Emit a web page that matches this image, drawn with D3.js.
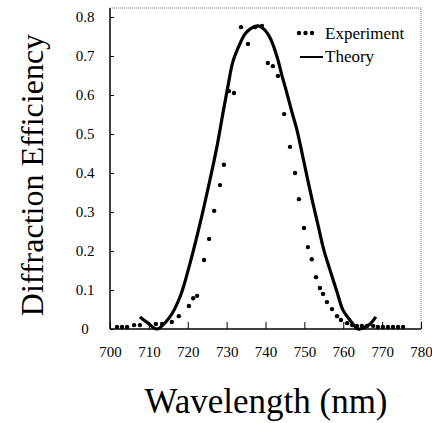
<!DOCTYPE html>
<html>
<head>
<meta charset="utf-8">
<script src="https://cdn.jsdelivr.net/npm/d3@7"></script>
<style>
  body { margin: 0; background: #fff; }
  svg text { font-family: "Liberation Serif", "Times New Roman", serif !important; fill: #000; }
</style>
</head>
<body>
<div id="chart"></div>
<script>
// measured points, wavelength in nm
var expX = [701.8, 703.1, 704.4, 706.2, 707.7, 711.8, 713.4, 715.9, 717.7, 720.3, 721.4, 722.4,
            724.2, 725.5, 726.8, 728.3, 729.3, 730.6, 731.9, 733.7, 735.5, 737.3, 739.1, 740.6,
            741.9, 743.2, 744.8, 746.3, 747.6, 748.6, 749.9, 750.9, 751.9, 753.0, 754.0, 754.8,
            755.8, 757.1, 758.4, 759.4, 761.0, 762.3, 763.5, 764.8, 766.1, 767.7, 768.9, 770.2,
            771.5, 772.8, 774.1, 775.4];
var expY = [0.005, 0.005, 0.005, 0.010, 0.010, 0.013, 0.013, 0.018, 0.033, 0.059, 0.079, 0.085,
            0.177, 0.231, 0.303, 0.369, 0.421, 0.610, 0.605, 0.774, 0.731, 0.774, 0.777, 0.682,
            0.674, 0.649, 0.551, 0.467, 0.400, 0.333, 0.259, 0.210, 0.179, 0.133, 0.105, 0.090,
            0.069, 0.051, 0.033, 0.023, 0.015, 0.010, 0.008, 0.008, 0.008, 0.008, 0.005, 0.005,
            0.005, 0.005, 0.005, 0.005];

// theory curve
var thX = [707.7, 709.8, 712.1, 715.4, 718.0, 720.6, 723.2, 725.7, 727.5, 729.1, 730.4, 731.6,
           733.4, 734.7, 736.0, 738.1, 739.6, 741.2, 743.0, 744.2, 745.5, 746.8, 748.1, 749.4,
           750.7, 752.0, 753.5, 755.0, 756.6, 758.4, 759.9, 761.7, 763.8, 765.3, 766.9, 768.4];
var thY = [0.031, 0.015, 0.000, 0.031, 0.082, 0.169, 0.272, 0.382, 0.467, 0.556, 0.626, 0.685,
           0.731, 0.756, 0.769, 0.777, 0.769, 0.746, 0.697, 0.651, 0.605, 0.556, 0.510, 0.451,
           0.390, 0.331, 0.267, 0.203, 0.151, 0.095, 0.049, 0.023, 0.000, 0.003, 0.013, 0.031];

var xTicks = [700, 710, 720, 730, 740, 750, 760, 770, 780];
var yTicks = [0, 0.1, 0.2, 0.3, 0.4, 0.5, 0.6, 0.7, 0.8];
var legendLabels = ["Experiment", "Theory"];

function init(){
    var w = 432, h = 423;
    var left = 110, right = 421, top = 8, bottom = 329;

    var svg = d3.select("#chart")
                .append("svg")
                .attr("width", w)
                .attr("height", h);

    var xScale = d3.scaleLinear().domain([700, 780]).range([left, right]);
    var yScale = d3.scaleLinear().domain([0, 0.8]).range([bottom, 17]);

    // dotted frame top / right
    svg.append("path")
        .attr("d", "M" + left + "," + top + "H" + right + "V" + bottom)
        .attr("fill", "none")
        .attr("stroke", "#777")
        .attr("stroke-width", 1)
        .attr("stroke-dasharray", "1,1");

    // x axis, ticks pointing inward
    var xAxis = d3.axisBottom(xScale)
                .tickValues(xTicks)
                .tickSize(-7)
                .tickFormat(d3.format("d"))
                .tickPadding(0);
    var gx = svg.append("g")
        .attr("transform", "translate(0," + bottom + ")")
        .attr("font-family", null)
        .call(xAxis);
    gx.select(".domain").remove();
    gx.selectAll("line").attr("stroke", "#000");
    gx.selectAll("text")
        .attr("y", 28)
        .attr("dy", null)
        .style("font-family", "'Liberation Serif', serif")
        .style("font-size", "15px");
    svg.append("line")
        .attr("x1", left).attr("x2", right)
        .attr("y1", bottom).attr("y2", bottom)
        .attr("stroke", "#000").attr("stroke-width", 1.5);

    // y axis
    var yAxis = d3.axisLeft(yScale)
                .tickValues(yTicks)
                .tickSize(-4)
                .tickFormat(function(d){ return d === 0 ? "0" : d3.format(".1f")(d); });
    var gy = svg.append("g")
        .attr("transform", "translate(" + left + ",0)")
        .call(yAxis);
    gy.select(".domain").remove();
    gy.selectAll("line").attr("stroke", "#000");
    gy.selectAll("text")
        .attr("x", -25)
        .attr("text-anchor", "middle")
        .style("font-family", "'Liberation Serif', serif")
        .style("font-size", "15px");
    svg.append("line")
        .attr("x1", left).attr("x2", left)
        .attr("y1", top).attr("y2", bottom)
        .attr("stroke", "#000").attr("stroke-width", 1.5);

    // theory line
    var line = d3.line()
        .x(function(d, i){ return xScale(thX[i]); })
        .y(function(d, i){ return yScale(thY[i]); })
        .curve(d3.curveCatmullRom);
    svg.append("path")
        .attr("d", line(thX))
        .attr("fill", "none")
        .attr("stroke", "#000")
        .attr("stroke-width", 3.2);

    // experiment points
    svg.selectAll("circle.exp")
        .data(expX)
        .enter()
        .append("circle")
        .attr("class", "exp")
        .attr("cx", function(d){ return xScale(d); })
        .attr("cy", function(d, i){ return yScale(expY[i]); })
        .attr("r", 2.2)
        .attr("fill", "#000");

    // legend
    var lg = svg.append("g");
    [299, 305.5, 312].forEach(function(x){
        lg.append("circle").attr("cx", x).attr("cy", 33).attr("r", 2.2).attr("fill", "#000");
    });
    lg.append("line")
        .attr("x1", 300).attr("x2", 323)
        .attr("y1", 57).attr("y2", 57)
        .attr("stroke", "#000").attr("stroke-width", 2);
    lg.selectAll("text")
        .data(legendLabels)
        .enter()
        .append("text")
        .attr("x", 325)
        .attr("y", function(d, i){ return 39 + i * 23; })
        .style("font-size", "17px")
        .text(function(d){ return d; });

    // axis titles
    svg.append("text")
        .attr("x", 266)
        .attr("y", 413)
        .attr("text-anchor", "middle")
        .style("font-size", "35px")
        .text("Wavelength (nm)");
    svg.append("text")
        .attr("transform", "translate(43,175) rotate(-90)")
        .attr("text-anchor", "middle")
        .style("font-size", "32px")
        .text("Diffraction Efficiency");
}

window.onload = init;
</script>
</body>
</html>
